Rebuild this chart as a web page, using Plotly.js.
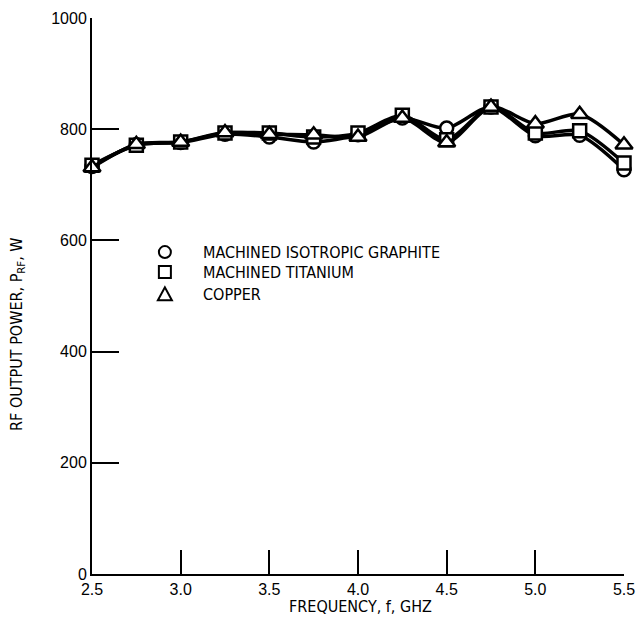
<!DOCTYPE html>
<html>
<head>
<meta charset="utf-8">
<script src="https://cdn.plot.ly/plotly-3.0.1.min.js"></script>
<style>html,body{margin:0;padding:0;background:#fff;}#chart{width:639px;height:624px;}</style>
</head>
<body>
<div id="chart"></div>
<script>
const frequency = [2.5, 2.75, 3.0, 3.25, 3.5, 3.75, 4.0, 4.25, 4.5, 4.75, 5.0, 5.25, 5.5];
const graphite = [733, 772, 776, 791, 786, 777, 790, 820, 802, 840, 788, 789, 727];
const titanium = [735, 771, 777, 793, 793, 786, 793, 825, 781, 840, 793, 797, 739];
const copper   = [731, 773, 777, 794, 791, 790, 786, 820, 776, 840, 810, 827, 772];
const seriesNames = ["MACHINED ISOTROPIC GRAPHITE", "MACHINED TITANIUM", "COPPER"];
const symbols = ["circle", "square", "triangle-up"];
const xTicks = [2.5, 3.0, 3.5, 4.0, 4.5, 5.0, 5.5];
const xTickText = ["2.5", "3.0", "3.5", "4.0", "4.5", "5.0", "5.5"];
const yTicks = [0, 200, 400, 600, 800, 1000];
const yTitle = "RF OUTPUT POWER, P<sub>RF</sub>, W";
const xTitle = "FREQUENCY, f, GHZ";

const seriesData = [graphite, titanium, copper];
const textFont = "'DejaVu Sans Condensed', 'Liberation Sans Narrow', sans-serif";
const numFont = "'Liberation Sans', Arial, sans-serif";

const traces = seriesData.map((vals, i) => ({
  x: frequency, y: vals, type: 'scatter', mode: 'lines+markers',
  name: seriesNames[i], showlegend: false, cliponaxis: false,
  line: {color: '#000', width: 3.5, shape: 'spline', smoothing: 0.8},
  marker: {symbol: symbols[i], size: i === 2 ? 15 : 13, color: '#fff',
           line: {color: '#000', width: 2.5}}
}));

// legend drawn with shapes + annotations
const pw = 532, ph = 556;
const legRows = [0.579, 0.543, 0.503];
const legX = 0.137;
const shapes = [];
const annotations = [];
const r = 6;
legRows.forEach((yy, i) => {
  const dx = r / pw, dy = r / ph;
  if (i === 0) {
    shapes.push({type: 'circle', xref: 'paper', yref: 'paper', x0: legX - dx, x1: legX + dx, y0: yy - dy, y1: yy + dy, line: {color: '#000', width: 2}});
  } else if (i === 1) {
    shapes.push({type: 'rect', xref: 'paper', yref: 'paper', x0: legX - dx, x1: legX + dx, y0: yy - dy, y1: yy + dy, line: {color: '#000', width: 2}});
  } else {
    shapes.push({type: 'path', xref: 'paper', yref: 'paper',
      path: `M ${(legX - 7/pw)} ${(yy - 6/ph)} L ${(legX + 7/pw)} ${(yy - 6/ph)} L ${legX} ${(yy + 7/ph)} Z`,
      line: {color: '#000', width: 2}});
  }
  annotations.push({xref: 'paper', yref: 'paper', x: legX + 36/pw, y: yy, xanchor: 'left', yanchor: 'middle',
    text: seriesNames[i], showarrow: false, font: {family: textFont, size: 16, color: '#000'}});
});

annotations.push({xref: 'paper', yref: 'paper', x: -74/pw, y: 0.43, textangle: -90,
  xanchor: 'center', yanchor: 'middle',
  text: yTitle, showarrow: false,
  font: {family: textFont, size: 16, color: '#000'}});
annotations.push({xref: 'paper', yref: 'paper', x: 0.505, y: -32/ph, xanchor: 'center', yanchor: 'middle',
  text: xTitle, showarrow: false,
  font: {family: textFont, size: 16, color: '#000'}});

const layout = {
  width: 639, height: 624,
  margin: {l: 92, r: 15, t: 18, b: 50},
  paper_bgcolor: '#fff', plot_bgcolor: '#fff',
  showlegend: false,
  xaxis: {range: [2.5, 5.5], tickvals: xTicks, ticktext: xTickText, ticks: 'inside', ticklen: 24, tickwidth: 2,
          tickcolor: '#000', showline: true, linecolor: '#000', linewidth: 2, showgrid: false, zeroline: false,
          tickfont: {family: numFont, size: 16, color: '#000'}},
  yaxis: {range: [0, 1000], tickvals: yTicks, ticks: 'inside', ticklen: 27, tickwidth: 2,
          tickcolor: '#000', showline: true, linecolor: '#000', linewidth: 2, showgrid: false, zeroline: false,
          tickfont: {family: numFont, size: 16, color: '#000'}},
  shapes: shapes, annotations: annotations
};
Plotly.newPlot('chart', traces, layout, {displayModeBar: false, staticPlot: true});
</script>
</body>
</html>
